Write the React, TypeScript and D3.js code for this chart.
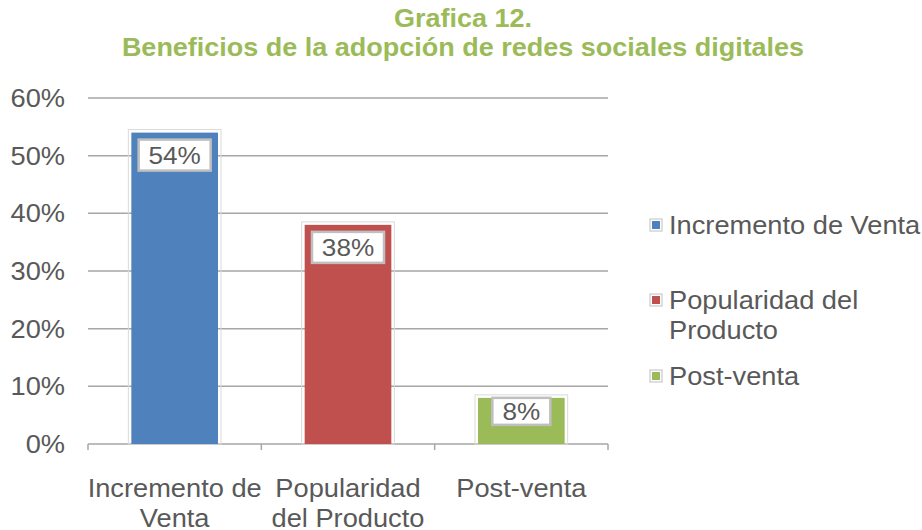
import * as d3 from "d3";
import React from "react";

const categories = ["Incremento de Venta", "Popularidad del Producto", "Post-venta"];
const axisLabels = [["Incremento de", "Venta"], ["Popularidad", "del Producto"], ["Post-venta"]];
const legendLabels = [["Incremento de Venta"], ["Popularidad del", "Producto"], ["Post-venta"]];
const values = [0.54, 0.38, 0.08];
const colors = ["#4F81BD", "#C0504D", "#9BBB59"];
const yTicks = [0, 0.1, 0.2, 0.3, 0.4, 0.5, 0.6];
const titleLines = ["Grafica 12.", "Beneficios de la adopción de redes sociales digitales"];

// the reference text is a little wider than Arial, so stretch it sideways
const SX = 1.09;

function StretchText({ x, y, lines, lineH = 30, anchor = "start", size = 25, fill = "#595959", weight = "normal", sx = SX, dy = "0" }: any) {
  return (
    <text
      transform={`translate(${x},${y}) scale(${sx},1)`}
      textAnchor={anchor}
      fontFamily="'Liberation Sans', Arial, sans-serif"
      fontSize={size}
      fontWeight={weight}
      fill={fill}
    >
      {lines.map((l: string, j: number) => (
        <tspan key={j} x={0} y={j * lineH} dy={dy}>
          {l}
        </tspan>
      ))}
    </text>
  );
}

export default function App() {
  const width = 922;
  const height = 530;
  const margin = { left: 88, right: 314, top: 98, bottom: 86 };
  const plotW = width - margin.left - margin.right;
  const plotH = height - margin.top - margin.bottom;

  const x = d3.scaleBand().domain(categories).range([0, plotW]).paddingInner(0.5).paddingOuter(0.25);
  const band = d3.scaleBand().domain(categories).range([0, plotW]);
  const y = d3.scaleLinear().domain([0, 0.6]).range([plotH, 0]);
  const pct = d3.format(".0%");

  return (
    <svg width={width} height={height} style={{ position: "absolute", left: 0, top: 0, background: "#fff" }}>
      <StretchText x={463} y={27} lines={titleLines} lineH={29} anchor="middle" size={25} weight="bold" fill="#9BBB59" sx={1.08} />
      <g transform={`translate(${margin.left},${margin.top})`}>
        {yTicks.map((t) => (
          <g key={t}>
            <line x1={0} x2={plotW} y1={y(t)} y2={y(t)} stroke="#a6a6a6" strokeWidth={1.5} />
            <StretchText x={-23} y={y(t)} dy="0.36em" lines={[pct(t)]} anchor="end" />
          </g>
        ))}
        {[0, 1, 2, 3].map((i) => (
          <line key={i} x1={i * band.bandwidth()} x2={i * band.bandwidth()} y1={plotH} y2={plotH + 6} stroke="#a6a6a6" strokeWidth={1.5} />
        ))}
        {categories.map((c, i) => {
          const bx = x(c)!;
          const bw = x.bandwidth();
          const top = y(values[i]);
          const label = pct(values[i]);
          const boxW = label.length * 14 + 30;
          const cx = bx + bw / 2;
          const small = plotH - top < 50;
          const boxTop = small ? top : top + 7;
          const boxH = small ? 27 : 31;
          return (
            <g key={c}>
              <rect x={bx - 3} y={top - 3} width={bw + 6} height={plotH - top + 3} fill="none" stroke="#d9d9d9" strokeWidth={1} />
              <rect x={bx} y={top} width={bw} height={plotH - top} fill={colors[i]} />
              <rect x={cx - boxW / 2} y={boxTop} width={boxW} height={boxH} fill="#fff" stroke="#bfbfbf" strokeWidth={2.5} />
              <StretchText x={cx} y={boxTop + boxH / 2} dy="0.36em" lines={[label]} anchor="middle" size={24} />
            </g>
          );
        })}
        {axisLabels.map((lines, i) => (
          <StretchText key={i} x={band(categories[i])! + band.bandwidth() / 2} y={plotH + 53} lines={lines} anchor="middle" />
        ))}
      </g>
      {legendLabels.map((lines, i) => {
        const ly = [225, 300, 376][i];
        return (
          <g key={i}>
            <rect x={650} y={ly - 6} width={12} height={12} fill="#fff" stroke="#bfbfbf" strokeWidth={1} />
            <rect x={652} y={ly - 4} width={8} height={8} fill={colors[i]} />
            <StretchText x={669} y={ly} dy="0.36em" lines={lines} />
          </g>
        );
      })}
    </svg>
  );
}
